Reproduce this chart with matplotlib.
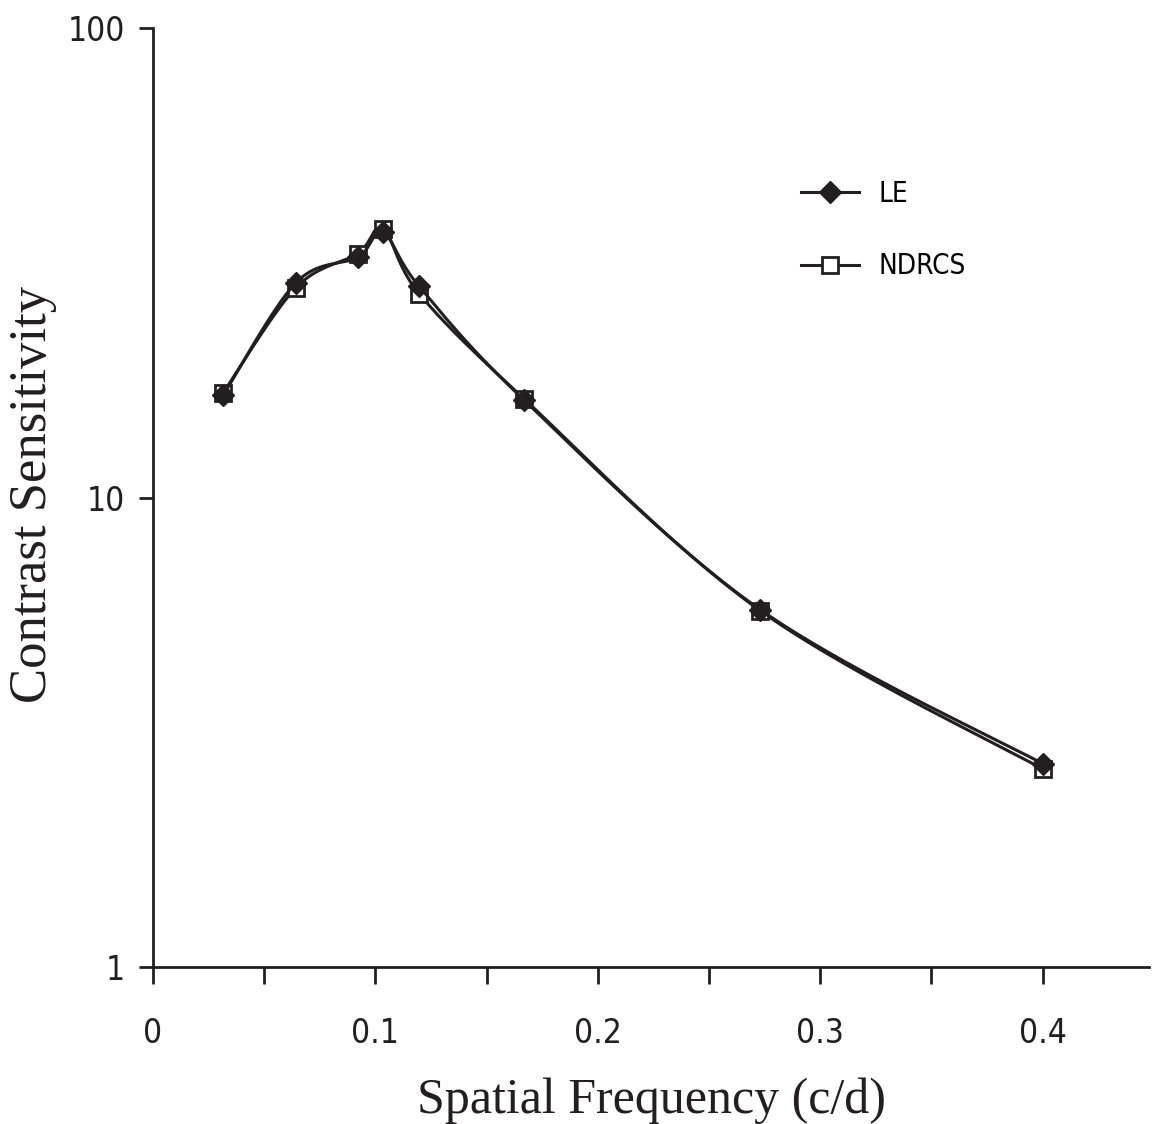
import numpy as np
import matplotlib
matplotlib.use("Agg")
import matplotlib.pyplot as plt
from matplotlib import font_manager

freq = [0.0315, 0.0643, 0.0921, 0.1034, 0.1196, 0.167, 0.273, 0.400]
le = [16.5, 28.7, 32.5, 36.7, 28.2, 16.1, 5.77, 2.71]
ndrcs = [16.7, 28.0, 33.1, 37.3, 27.2, 16.2, 5.74, 2.64]

x_ticks = [0, 0.1, 0.2, 0.3, 0.4]
x_tick_labels = ["0", "0.1", "0.2", "0.3", "0.4"]
y_ticks = [1, 10, 100]
y_tick_labels = ["1", "10", "100"]

sans = font_manager.FontProperties(family="DejaVu Sans", stretch="condensed", size=24)
leg_font = font_manager.FontProperties(family="DejaVu Sans", stretch="condensed", size=20)
serif = "Liberation Serif"


def smooth(xs, ys, n=40):
	# excel-like smoothed line, bezier with 1/6 tangents, in x / log10(y) space
	xs = np.asarray(xs, float)
	ly = np.log10(np.asarray(ys, float))
	px, py = [], []
	m = len(xs)
	for i in range(m - 1):
		x0, y0 = xs[max(i - 1, 0)], ly[max(i - 1, 0)]
		x1, y1 = xs[i], ly[i]
		x2, y2 = xs[i + 1], ly[i + 1]
		x3, y3 = xs[min(i + 2, m - 1)], ly[min(i + 2, m - 1)]
		c1 = (x1 + (x2 - x0) / 6, y1 + (y2 - y0) / 6)
		c2 = (x2 - (x3 - x1) / 6, y2 - (y3 - y1) / 6)
		t = np.linspace(0, 1, n)
		bx = (1 - t) ** 3 * x1 + 3 * (1 - t) ** 2 * t * c1[0] + 3 * (1 - t) * t ** 2 * c2[0] + t ** 3 * x2
		by = (1 - t) ** 3 * y1 + 3 * (1 - t) ** 2 * t * c1[1] + 3 * (1 - t) * t ** 2 * c2[1] + t ** 3 * y2
		px.extend(bx)
		py.extend(by)
	return np.array(px), 10 ** np.array(py)


fig = plt.figure(figsize=(11.52, 11.24), dpi=100)
ax = fig.add_axes([0.1328, 0.1397, 0.865, 0.8353])

col = "#231f20"
sx, sy = smooth(freq, ndrcs)
ax.plot(sx, sy, color=col, lw=2.2, zorder=2)
ax.plot(freq, ndrcs, ls="none", marker="s", ms=12, mfc="white", mec=col, mew=2, zorder=3)
sx, sy = smooth(freq, le)
ax.plot(sx, sy, color=col, lw=2.2, zorder=4)
ax.plot(freq, le, ls="none", marker="D", ms=11, mfc=col, mec=col, zorder=5)

h_le, = ax.plot([], [], color=col, lw=2.2, marker="D", ms=11, mfc=col, mec=col)
h_nd, = ax.plot([], [], color=col, lw=2.2, marker="s", ms=12, mfc="white", mec=col, mew=2)
leg = ax.legend([h_le, h_nd], ["LE", "NDRCS"], loc="upper left", bbox_to_anchor=(0.625, 0.865),
	frameon=False, handlelength=2.1, handletextpad=0.7, labelspacing=1.6, prop=leg_font)

ax.set_yscale("log")
ax.set_xlim(0, 0.448)
ax.set_ylim(1, 100)
ax.set_xticks(x_ticks)
ax.set_xticklabels(x_tick_labels, fontproperties=sans)
ax.set_xticks(np.arange(0.05, 0.45, 0.1), minor=True)
ax.set_yticks(y_ticks)
ax.set_yticklabels(y_tick_labels, fontproperties=sans)
ax.yaxis.set_minor_locator(matplotlib.ticker.NullLocator())
ax.tick_params(axis="x", which="both", direction="out", length=12, width=2, color=col, pad=24, labelcolor=col)
ax.tick_params(axis="y", which="both", direction="out", length=10, width=2, color=col, pad=10, labelcolor=col)

for s in ["top", "right"]:
	ax.spines[s].set_visible(False)
for s in ["left", "bottom"]:
	ax.spines[s].set_linewidth(2)
	ax.spines[s].set_color(col)

ax.set_xlabel("Spatial Frequency (c/d)", family=serif, fontsize=36, color=col, labelpad=20)
ax.set_ylabel("Contrast Sensitivity", family=serif, fontsize=38, color=col)
ax.yaxis.set_label_coords(-0.096, 0.503)

plt.savefig("out.png", dpi=100)
